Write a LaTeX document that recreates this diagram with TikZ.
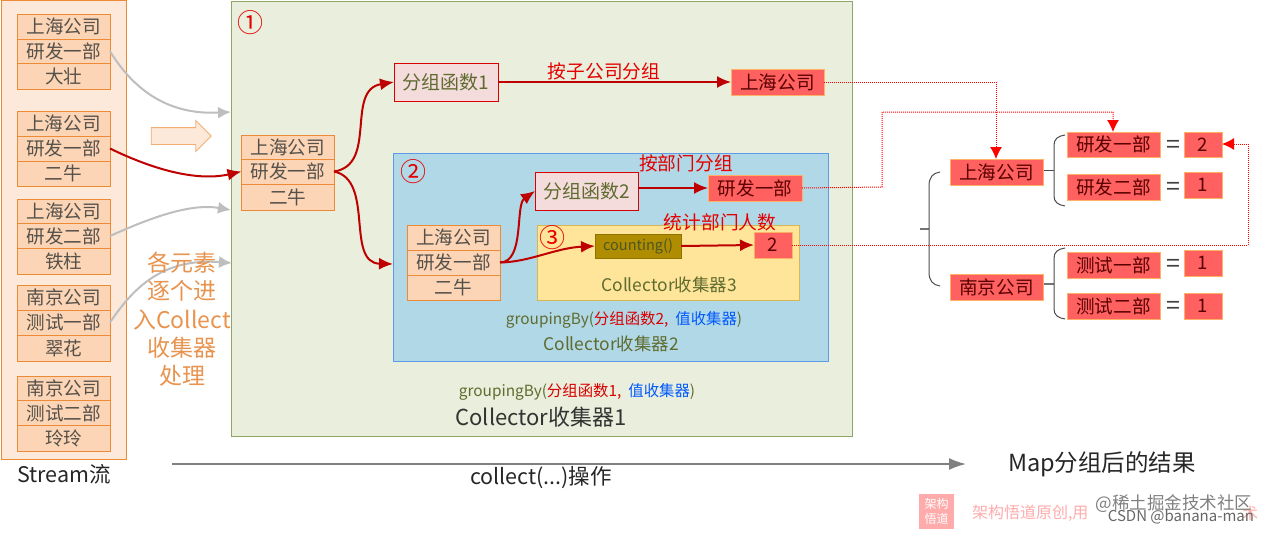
\documentclass[tikz,border=0pt]{standalone}
\usepackage{fontspec}
\setmainfont{Noto Sans CJK SC}
\usetikzlibrary{arrows.meta,shapes.arrows,calc,positioning}
\definecolor{cellfill}{HTML}{FBD5B5}
\definecolor{celledge}{HTML}{ED8A36}
\definecolor{outerfill}{HTML}{FDE9DA}
\definecolor{greenfill}{HTML}{E9EFDC}
\definecolor{greenedge}{HTML}{8FA565}
\definecolor{bluefill}{HTML}{B1D8E6}
\definecolor{blueedge}{HTML}{5B9BE8}
\definecolor{yelfill}{HTML}{FFE59A}
\definecolor{yeledge}{HTML}{D6B656}
\definecolor{redfill}{HTML}{FF6060}
\definecolor{darkred}{HTML}{BE0000}
\definecolor{fnfill}{HTML}{F4DCDC}
\definecolor{fntext}{HTML}{5F6B2F}
\definecolor{celltext}{HTML}{55504A}
\definecolor{grayarrow}{HTML}{BEBEBE}
\definecolor{orangetext}{HTML}{E8934E}
\definecolor{cntfill}{HTML}{B08C00}
\definecolor{cntedge}{HTML}{8F7300}
\tikzset{
  x=1pt,y=-1pt,
  fs/.style={font=\fontsize{#1}{#1}\selectfont},
  boxat/.style args={#1/#2/#3/#4}{at={(#1/2+#3/2,#2/2+#4/2)},minimum width=#3pt-#1pt,minimum height=#4pt-#2pt},
  anynode/.style={inner sep=0pt,outer sep=0pt,anchor=center},
  cell/.style={anynode,draw=celledge,fill=cellfill,line width=1pt,text=celltext,fs=18.6},
  redbox/.style={anynode,draw=orange!60,fill=redfill,line width=.6pt,text=red!35!black,fs=18.6},
  fnbox/.style={anynode,draw=red!85!black,fill=fnfill,line width=1pt,text=fntext,fs=19},
  container/.style={anynode},
  lab/.style={anynode,inner sep=0pt},
  redlab/.style={lab,text=red!90!black,fs=18.7},
  circ/.style={lab,text=red!90!black,fs=26},
  eqsign/.style={lab,fs=25,text=black!75},
  orangelab/.style={lab,fs=23,text=orangetext},
  grayflow/.style={draw=grayarrow,line width=2pt,-{Latex[length=13pt,width=12pt]}},
  redflow/.style={draw=darkred,line width=2pt,-{Latex[length=14pt,width=12pt]}},
  dotflow/.style={draw=red,densely dotted,line width=1pt,-{Latex[length=12pt,width=12pt]}},
  brace/.style={draw=black!70,line width=1pt},
  stem/.style={draw=black!55,line width=1.6pt},
}
\begin{document}
\begin{tikzpicture}
\useasboundingbox (0,0) rectangle (1268,533);
% containers
\node[container,draw=celledge,fill=outerfill,line width=1pt,boxat={1.5/0/126.5/459}] (outer) {};
\node[container,draw=greenedge,fill=greenfill,line width=1pt,boxat={231/1/852/436}] (g1) {};
\node[container,draw=blueedge,fill=bluefill,line width=1pt,boxat={393/153/828/361}] (g2) {};
\node[container,draw=yeledge,fill=yelfill,line width=1pt,boxat={537/225/799/300}] (g3) {};
% stack 1
\node[cell,boxat={17.5/14/110/39}] (s1a) {上海公司};
\node[cell,boxat={17.5/39/110/63.5}] (s1b) {研发一部};
\node[cell,boxat={17.5/63.5/110/89}] (s1c) {大壮};
% stack 2
\node[cell,boxat={17/111/110/136}] (s2a) {上海公司};
\node[cell,boxat={17/136/110/161}] (s2b) {研发一部};
\node[cell,boxat={17/161/110/186}] (s2c) {二牛};
% stack 3
\node[cell,boxat={17.5/199/110/223.5}] (s3a) {上海公司};
\node[cell,boxat={17.5/223.5/110/248.5}] (s3b) {研发二部};
\node[cell,boxat={17.5/248.5/110/274}] (s3c) {铁柱};
% stack 4
\node[cell,boxat={17.5/285.5/110/310}] (s4a) {南京公司};
\node[cell,boxat={17.5/310/110/335}] (s4b) {测试一部};
\node[cell,boxat={17.5/335/110/361}] (s4c) {翠花};
% stack 5
\node[cell,boxat={17.5/376/110/400.5}] (s5a) {南京公司};
\node[cell,boxat={17.5/400.5/110/425.5}] (s5b) {测试二部};
\node[cell,boxat={17.5/425.5/110/451.5}] (s5c) {玲玲};
% inner stack A
\node[cell,boxat={241.5/135/334/159}] (aa) {上海公司};
\node[cell,boxat={241.5/159/334/184}] (ab) {研发一部};
\node[cell,boxat={241.5/184/334/210}] (ac) {二牛};
% inner stack B
\node[cell,boxat={407/225/500/250}] (ba) {上海公司};
\node[cell,boxat={407/250/500/275}] (bb) {研发一部};
\node[cell,boxat={407/275/500/300.5}] (bc) {二牛};
% functions
\node[fnbox,boxat={394/63/498/101}] (fn1) {分组函数1};
\node[fnbox,boxat={535/172/638/210}] (fn2) {分组函数2};
\node[anynode,draw=cntedge,fill=cntfill,line width=.8pt,text=fntext!80!black,fs=14.5,boxat={595/234/681/258}] (cnt) {counting()};
% red results in collectors
\node[redbox,boxat={731/69/824/95}] (r1) {上海公司};
\node[redbox,boxat={708/175/802/201}] (r2) {研发一部};
\node[redbox,boxat={754/232/792/258}] (r3) {2};
% result tree
\node[redbox,boxat={950/159/1043/185}] (sh) {上海公司};
\node[redbox,boxat={950/274/1043/300}] (nj) {南京公司};
\node[redbox,boxat={1067/132/1160/157.5}] (d1) {研发一部};
\node[redbox,boxat={1067/174/1160/200}] (d2) {研发二部};
\node[redbox,boxat={1067/252/1160/278}] (d3) {测试一部};
\node[redbox,boxat={1067/293/1160/319}] (d4) {测试二部};
\node[redbox,boxat={1184/132/1222/157.5}] (v1) {2};
\node[redbox,boxat={1184/172/1222/198}] (v2) {1};
\node[redbox,boxat={1184/250/1222/276}] (v3) {1};
\node[redbox,boxat={1184/293/1222/319}] (v4) {1};
\node[eqsign] (e1) at (1173,147) {=};
\node[eqsign] (e2) at (1173,189) {=};
\node[eqsign] (e3) at (1173,266) {=};
\node[eqsign] (e4) at (1173,308) {=};
% braces
\coordinate (mstem) at (920,229);
\coordinate (mtop) at (940,172);
\coordinate (mbot) at (940,286);
\draw[stem] (mstem) -- (929,229);
\draw[brace] (mtop) .. controls (933,173) and (929,177) .. (929,186) -- (929,272) .. controls (929,281) and (933,285) .. (mbot);
\coordinate (b1t) at (1065,135);
\coordinate (b1b) at (1065,206);
\coordinate (b2t) at (1065,248);
\coordinate (b2b) at (1065,319);
\draw[brace] (sh.east) ++(1,-2) -- ++(10,0);
\draw[brace] (b1t) .. controls (1058,136) and (1054,139) .. (1054,145) -- (1054,196) .. controls (1054,202) and (1058,205) .. (b1b);
\draw[stem] (nj.east) ++(1,-3) -- ++(10,0);
\draw[brace] (b2t) .. controls (1058,249) and (1054,252) .. (1054,258) -- (1054,309) .. controls (1054,315) and (1058,318) .. (b2b);
% block arrow
\node[single arrow,draw=celledge!70,fill=outerfill,line width=.8pt,minimum height=60pt,minimum width=30pt,single arrow head extend=7pt,single arrow head indent=0pt,inner xsep=0pt,inner ysep=8pt,outer sep=0pt,anchor=center] (blk) at (177,136) {};
% flows
\coordinate (g1w1) at (231,112);
\coordinate (g1w3) at (231,210);
\coordinate (g1w4) at (232,263);
\path[grayflow] (s1b.east) .. controls (135,92) and (170,115) .. (g1w1);
\path[grayflow] (s3b.east) .. controls (150,218) and (190,203) .. (g1w3);
\path[grayflow] (s4b.east) .. controls (135,285) and (165,258) .. (g1w4);
\path[redflow] (s2b.east) .. controls (150,168) and (195,182) .. (ab.west);
\path[redflow] (ab.east) .. controls (378,165) and (345,90) .. (fn1.west);
\path[redflow] (ab.east) .. controls (375,180) and (345,263) .. ($(g2.west)+(0,7)$);
\path[redflow] (r1.west -| fn1.east) -- (r1.west);
\path[redflow] (r2.west -| fn2.east) -- (r2.west);
\path[redflow] (bb.east) .. controls (525,262) and (515,205) .. (fn2.west);
\path[redflow] (bb.east) .. controls (530,262) and (555,248) .. (cnt.west);
\path[redflow] (cnt.east) -- (r3.west);
% dotted
\coordinate (c1) at (996,82);
\coordinate (c2) at (882,187);
\coordinate (c3) at (882,112);
\coordinate (c4) at (1113,112);
\coordinate (c5) at (1248,245);
\coordinate (c6) at (1248,144);
\path[dotflow] (r1.east) -- (c1) -- (sh.north -| c1);
\path[dotflow] (r2.east) -- (c2) -- (c3) -- (c4) -- (d1.north -| c4);
\path[dotflow] (r3.east) -- (c5) -- (c6) -- (v1.east |- c6);
% labels
\node[redlab] (l1) at (604,71) {按子公司分组};
\node[redlab] (l2) at (686,163) {按部门分组};
\node[redlab] (l3) at (720,222) {统计部门人数};
\node[circ] (n1) at (250,23) {①};
\node[circ] (n2) at (413,172) {②};
\node[circ] (n3) at (552,238) {③};
\node[lab,fs=17.4,text=fntext] (t3) at (669,285) {Collector收集器3};
\node[lab,fs=15.4,text=fntext] (t2g) at (624,320) {groupingBy(\textcolor{red!85!black}{分组函数2,}\hspace{7pt}\textcolor{blue!65!cyan}{值收集器})};
\node[lab,fs=17.4,text=fntext] (t2) at (611,344) {Collector收集器2};
\node[lab,fs=15.4,text=fntext] (t1g) at (577,392) {groupingBy(\textcolor{red!85!black}{分组函数1,}\hspace{7pt}\textcolor{blue!65!cyan}{值收集器})};
\node[lab,fs=22,text=black!80] (t1) at (541,417) {Collector收集器1};
\node[orangelab] (o1) at (182,263) {各元素};
\node[orangelab] (o2) at (182,291) {逐个进};
\node[orangelab] (o3) at (182,320) {入Collect};
\node[orangelab] (o4) at (182,348) {收集器};
\node[orangelab] (o5) at (182,376) {处理};
\node[lab,fs=21.5,text=black!85] (st) at (64,474) {Stream流};
\node[lab,fs=21.5,text=black!85] (co) at (541,478) {collect(...)操作};
\node[lab,fs=23.5,text=black!85] (mp) at (1102,464) {Map分组后的结果};
\coordinate (la) at (172,464);
\coordinate (lb) at (966,464);
\path[draw=black!50,line width=1.6pt,-{Latex[length=17pt,width=12pt]}] (la) -- (lb);
% watermark
\node[anynode,fill=red!33,text=white,fs=12,align=center,minimum width=35pt,minimum height=35pt] (wm) at (936.5,511.5) {架构\\[3pt]悟道};
\node[lab,anchor=west,fs=16,text=red!33] (wt) at (972,513) {架构悟道原创,用};
\node[lab,anchor=east,fs=16,text=red!33] (wt2) at (1258,513) {术};
\node[lab,anchor=east,fs=17.5,text=black!50] (wa) at (1252,504) {@稀土掘金技术社区};
\node[lab,anchor=east,fs=15,text=black!60] (wb) at (1254,517) {CSDN @banana-man};
\end{tikzpicture}
\end{document}
